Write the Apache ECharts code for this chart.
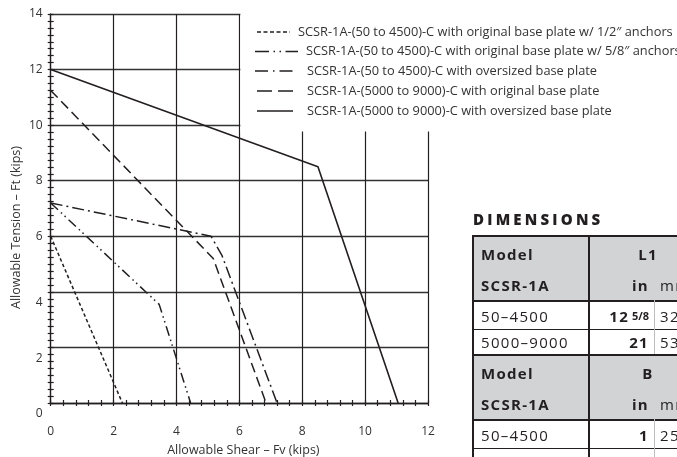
<!DOCTYPE html>
<html>
<head>
<meta charset="utf-8">
<script src="https://cdn.jsdelivr.net/npm/echarts/dist/echarts.min.js"></script>
<style>
html,body{margin:0;padding:0;background:#fff;overflow:hidden;width:677px;height:457px;}
#chart{position:absolute;left:0;top:0;width:677px;height:457px;}
#dimTitle{position:absolute;left:473px;top:209px;font-family:"Open Sans",sans-serif;font-weight:800;font-size:15px;letter-spacing:3.2px;color:#231f20;line-height:20px;white-space:nowrap;}
#dims{position:absolute;left:472px;top:235px;width:205px;height:222px;overflow:hidden;font-family:"Open Sans",sans-serif;color:#231f20;font-size:15px;letter-spacing:1.3px;}
.row{position:absolute;left:0;width:240px;box-sizing:border-box;}
.row.gray{background:#d1d3d4;}
.cell{position:absolute;top:0;bottom:0;display:flex;align-items:center;white-space:nowrap;box-sizing:border-box;}
.hline{position:absolute;left:0;width:240px;background:#231f20;}
.vline{position:absolute;background:#231f20;}
.b{font-weight:700;}
.fr{font-size:11px;font-weight:700;letter-spacing:0;vertical-align:3px;}
</style>
</head>
<body>
<div id="chart"></div>
<div id="dimTitle"></div>
<div id="dims"></div>
<script>
// ---------- chart data ----------
const seriesNames = [
  'SCSR-1A-(50 to 4500)-C with original base plate w/ 1/2\u2033 anchors',
  'SCSR-1A-(50 to 4500)-C with original base plate w/ 5/8\u2033 anchors',
  'SCSR-1A-(50 to 4500)-C with oversized base plate',
  'SCSR-1A-(5000 to 9000)-C with original base plate',
  'SCSR-1A-(5000 to 9000)-C with oversized base plate'
];
const halfInchAnchors   = [[0, 6.0], [2.28, 0]];
const fiveEighthAnchors = [[0, 7.2], [3.45, 3.55], [4.45, 0]];
const oversizedSmall    = [[0, 7.2], [5.1, 6.0], [5.45, 5.3], [7.2, 0]];
const originalLarge     = [[0, 11.25], [5.17, 5.2], [6.85, 0]];
const oversizedLarge    = [[0, 12], [8.5, 8.5], [11.05, 0]];
const xTickLabels = [0, 2, 4, 6, 8, 10, 12];
const yTickLabels = [0, 2, 4, 6, 8, 10, 12, 14];
const xName = 'Allowable Shear \u2013 Fv (kips)';
const yName = 'Allowable Tension \u2013 Ft (kips)';

// ---------- table data ----------
const dimTitleText = 'DIMENSIONS';
const headerModel = ['Model', 'SCSR-1A'];
const blockParams = ['L1', 'B'];
const modelRows = ['50\u20134500', '5000\u20139000'];
const inWhole = [['12', '21'], ['1', '1']];
const inFrac  = [['5/8', ''], ['', '1/8']];
const mmVals  = [['321', '533'], ['25', '29']];

// line styles (series) and their legend icons
const dashes = [[3.5, 2.5], [10, 4, 1.5, 3.5, 1.5, 4], [12, 4, 2, 4], [10, 5], 'solid'];
const legendDash = [[4, 2.5], [14, 4.5, 1.5, 4.5, 1.5, 4.5], [13, 5, 1.5, 5], [15, 6], null];
const legendIconX = [[257, 290], [255, 298], [255, 293], [257, 293], [257, 293]];
const legendTextX = [298, 306, 307, 307, 307];
const legendY = [32, 51.5, 71, 91, 111];
const dataSets = [halfInchAnchors, fiveEighthAnchors, oversizedSmall, originalLarge, oversizedLarge];

const FONT = '"Open Sans", sans-serif';
const INK = '#231f20';
const TXT = '#333';
const chart = echarts.init(document.getElementById('chart'), null, {renderer: 'canvas'});

const baseX = {
  type: 'value', min: xTickLabels[0], max: xTickLabels[xTickLabels.length - 1], interval: 2,
  position: 'bottom'
};
const baseY = {
  type: 'value', min: yTickLabels[0], max: yTickLabels[yTickLabels.length - 1], interval: 2,
  position: 'left'
};

const option = {
  animation: false,
  backgroundColor: '#fff',
  textStyle: {fontFamily: FONT},
  grid: {left: 50.7, right: 249, top: 14, bottom: 54, containLabel: false, outerBoundsMode: 'none'},
  xAxis: [
    Object.assign({}, baseX, {
      name: xName, nameLocation: 'middle', nameGap: 41, nameMoveOverlap: false,
      nameTextStyle: {fontFamily: FONT, fontSize: 12.5, color: TXT, padding: [0, 0, 0, 8]},
      axisLine: {show: true, lineStyle: {color: INK, width: 1.3}},
      axisTick: {show: true, length: 3, lineStyle: {color: INK, width: 1.2}},
      minorTick: {show: true, splitNumber: 5, length: 3, lineStyle: {color: INK, width: 1.2}},
      axisLabel: {fontFamily: FONT, fontSize: 12, color: TXT, margin: 23},
      splitLine: {show: true, lineStyle: {color: INK, width: 1.2}}
    }),
    Object.assign({}, baseX, {
      axisLine: {show: false},
      axisTick: {show: true, inside: true, length: 3, lineStyle: {color: INK, width: 1.2}},
      minorTick: {show: true, splitNumber: 5, length: 3, lineStyle: {color: INK, width: 1.2}},
      axisLabel: {show: false}, splitLine: {show: false}
    })
  ],
  yAxis: [
    Object.assign({}, baseY, {
      name: yName, nameLocation: 'middle', nameGap: 28, nameMoveOverlap: false,
      nameTextStyle: {fontFamily: FONT, fontSize: 12.5, color: TXT, padding: [0, 38, 0, 0]},
      axisLine: {show: true, lineStyle: {color: INK, width: 1.3}},
      axisTick: {show: true, length: 3, lineStyle: {color: INK, width: 1.2}},
      minorTick: {show: true, splitNumber: 8, length: 3, lineStyle: {color: INK, width: 1.2}},
      axisLabel: {
        fontFamily: FONT, fontSize: 12, color: TXT, margin: 8,
        formatter: function (v) { return v <= 4 ? '{low|' + v + '}' : '{n|' + v + '}'; },
        rich: {
          low: {fontFamily: FONT, fontSize: 12, color: TXT, padding: [22, 0, 0, 0]},
          n: {fontFamily: FONT, fontSize: 12, color: TXT}
        }
      },
      splitLine: {show: true, lineStyle: {color: '#333', width: 1.3}}
    }),
    Object.assign({}, baseY, {
      axisLine: {show: false},
      axisTick: {show: true, inside: true, length: 3, lineStyle: {color: INK, width: 1.2}},
      minorTick: {show: true, splitNumber: 8, length: 3, lineStyle: {color: INK, width: 1.2}},
      axisLabel: {show: false}, splitLine: {show: false}
    })
  ],
  series: seriesNames.map(function (n, i) {
    return {
      name: n, type: 'line', data: dataSets[i], symbol: 'none', showSymbol: false,
      xAxisIndex: 0, yAxisIndex: 0, z: 3,
      lineStyle: {color: INK, width: i === 4 ? 1.6 : 1.5, type: dashes[i]},
      itemStyle: {color: INK}
    };
  })
};
chart.setOption(option);

// white panel behind the legend (masks the grid in the upper right corner) + legend
const pTL = chart.convertToPixel({xAxisIndex: 0, yAxisIndex: 0}, [6, 9.77]);
const graphics = [{
  type: 'rect', z: 5, silent: true,
  shape: {x: pTL[0] + 1, y: 0, width: 677 - pTL[0], height: pTL[1]},
  style: {fill: '#fff'}
}];
seriesNames.forEach(function (n, i) {
  const st = {stroke: INK, lineWidth: i === 4 ? 1.6 : 1.5};
  if (legendDash[i]) st.lineDash = legendDash[i];
  graphics.push({
    type: 'line', z: 6, silent: true,
    shape: {x1: legendIconX[i][0], y1: legendY[i], x2: legendIconX[i][1], y2: legendY[i]},
    style: st
  });
  graphics.push({
    type: 'text', z: 6, silent: true, x: legendTextX[i], y: legendY[i],
    style: {text: n, fill: TXT, font: '12.8px ' + FONT, textVerticalAlign: 'middle', verticalAlign: 'middle'}
  });
});
chart.setOption({graphic: graphics});

// ---------- dimensions table ----------
document.getElementById('dimTitle').textContent = dimTitleText;
const host = document.getElementById('dims');
const C1 = 116, INW = 66, MMW = 54;
let y = 0;
function hline(h) {
  const d = document.createElement('div'); d.className = 'hline';
  d.style.top = y + 'px'; d.style.height = h + 'px'; host.appendChild(d); y += h;
}
function row(h, gray, cells) {
  const r = document.createElement('div'); r.className = 'row' + (gray ? ' gray' : '');
  r.style.top = y + 'px'; r.style.height = h + 'px';
  cells.forEach(function (c) {
    const d = document.createElement('div'); d.className = 'cell' + (c.b ? ' b' : '');
    d.style.left = c.x + 'px'; d.style.width = c.w + 'px';
    d.style.justifyContent = c.align;
    d.style.padding = c.pad || '0';
    d.innerHTML = c.html;
    r.appendChild(d);
  });
  host.appendChild(r); y += h;
}
function vline(top, h, x, w, col) {
  const d = document.createElement('div'); d.className = 'vline';
  d.style.top = top + 'px'; d.style.height = h + 'px'; d.style.left = x + 'px'; d.style.width = w + 'px';
  if (col) d.style.background = col;
  host.appendChild(d);
}
blockParams.forEach(function (p, bi) {
  hline(2);
  const top0 = y;
  row(33, true, [
    {x: 0, w: C1, align: 'flex-start', pad: '0 0 0 9px', html: headerModel[0], b: true},
    {x: C1, w: INW + MMW, align: 'center', html: p, b: true}
  ]);
  row(30, true, [
    {x: 0, w: C1, align: 'flex-start', pad: '0 0 0 9px', html: headerModel[1], b: true},
    {x: C1, w: INW, align: 'flex-end', pad: '0 5px 0 0', html: 'in', b: true},
    {x: C1 + INW, w: MMW, align: 'flex-start', pad: '0 0 0 6px', html: 'mm'}
  ]);
  hline(2);
  modelRows.forEach(function (m, ri) {
    const fr = inFrac[bi][ri] ? '<span class="fr">' + inFrac[bi][ri] + '</span>' : '';
    row(ri === 0 ? 27 : 24, false, [
      {x: 0, w: C1, align: 'flex-start', pad: '0 0 0 9px', html: m},
      {x: C1, w: INW, align: 'flex-end', pad: '0 5px 0 0', html: inWhole[bi][ri] + (fr ? '&#8202;' + fr : ''), b: true},
      {x: C1 + INW, w: MMW, align: 'flex-start', pad: '0 0 0 6px', html: mmVals[bi][ri]}
    ]);
    if (ri === 0) hline(1);
  });
  vline(top0 + 63, y - top0 - 63, C1 + INW, 1, '#bcbec0');
});
vline(0, 400, 0, 2);
vline(0, 400, C1, 2);
</script>
</body>
</html>
